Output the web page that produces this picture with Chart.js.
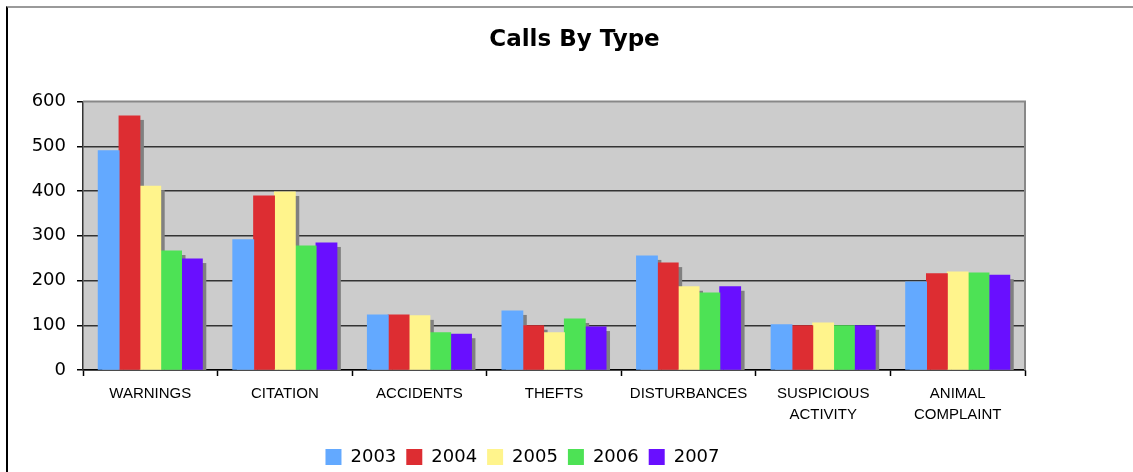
<!DOCTYPE html>
<html>
<head>
<meta charset="utf-8">
<title>Calls By Type</title>
<script src="https://cdn.jsdelivr.net/npm/chart.js@4.4.0/dist/chart.umd.min.js"></script>
<style>
  html, body { margin: 0; padding: 0; background: #fff; }
  #wrap { position: relative; width: 1133px; height: 472px; overflow: hidden; }
  #frame { position: absolute; left: 6px; top: 6px; right: -4px; bottom: -4px; border-top: 2px solid #9a9a9a; border-left: 2px solid #000; }
  #calls { position: absolute; left: 0; top: 0; }
</style>
</head>
<body>
<div id="wrap">
  <div id="frame"></div>
  <canvas id="calls" width="1133" height="472"></canvas>
</div>
<script>
// data
const categories = ['WARNINGS', 'CITATION', 'ACCIDENTS', 'THEFTS', 'DISTURBANCES', ['SUSPICIOUS', 'ACTIVITY'], ['ANIMAL', 'COMPLAINT']];
const years = ['2003', '2004', '2005', '2006', '2007'];
const calls2003 = [490, 291, 123, 132, 255, 101, 197];
const calls2004 = [568, 389, 123, 99, 239, 99, 215];
const calls2005 = [411, 398, 121, 83, 186, 105, 219];
const calls2006 = [266, 277, 83, 114, 172, 99, 217];
const calls2007 = [248, 284, 80, 96, 186, 99, 212];
const yTicks = [0, 100, 200, 300, 400, 500, 600];

const seriesValues = [calls2003, calls2004, calls2005, calls2006, calls2007];
const barColors = ['#63a9ff', '#dd2d32', '#fff48c', '#4de255', '#690fff'];

const sansV = "'DejaVu Sans', Verdana, sans-serif";
const sansA = "'Liberation Sans', Arial, sans-serif";

const PLOT_LEFT = 83;
const PLOT_BOTTOM = 370;
const SHADOW = 4;

// grey plot fill + grey frame on top/right
const plotBox = {
  id: 'plotBox',
  beforeDraw(chart) {
    const { ctx, chartArea: a } = chart;
    ctx.save();
    ctx.fillStyle = '#cccccc';
    ctx.fillRect(a.left, a.top, a.right - a.left, a.bottom - a.top);
    ctx.restore();
  },
  afterDraw(chart) {
    const { ctx, chartArea: a } = chart;
    ctx.save();
    ctx.strokeStyle = '#888888';
    ctx.lineWidth = 2;
    ctx.beginPath();
    ctx.moveTo(a.left, a.top);
    ctx.lineTo(a.right, a.top);
    ctx.lineTo(a.right, a.bottom);
    ctx.stroke();
    ctx.restore();
  }
};

// flat grey drop shadow, taken from the bar elements the library laid out
const barShadow = {
  id: 'barShadow',
  beforeDatasetsDraw(chart) {
    const { ctx, chartArea: a } = chart;
    ctx.save();
    ctx.beginPath();
    ctx.rect(a.left, a.top, a.right - a.left, a.bottom - a.top);
    ctx.clip();
    ctx.fillStyle = '#808080';
    chart.data.datasets.forEach((ds, i) => {
      chart.getDatasetMeta(i).data.forEach(bar => {
        const { x, y, base, width } = bar.getProps(['x', 'y', 'base', 'width'], true);
        ctx.fillRect(x - width / 2 + SHADOW, y + SHADOW, width, base - y);
      });
    });
    ctx.restore();
  }
};

// title centred on the whole frame, legend nudged like the original
const boxNudge = {
  id: 'boxNudge',
  afterLayout(chart) {
    const t = chart.titleBlock;
    if (t) { t.left = 16; t.right = 1133; }
    const l = chart.legend;
    if (l) { l.left += 10; l.right += 10; l.top += 4; l.bottom += 4; }
  }
};

new Chart(document.getElementById('calls'), {
  type: 'bar',
  data: {
    labels: categories,
    datasets: years.map((y, i) => ({
      label: y,
      data: seriesValues[i],
      backgroundColor: barColors[i],
      borderWidth: 0,
      inflateAmount: 0.5
    }))
  },
  options: {
    responsive: false,
    devicePixelRatio: 1,
    animation: false,
    events: [],
    layout: { padding: { left: 0, right: 108, top: 0, bottom: 0 } },
    datasets: { bar: { categoryPercentage: 0.773, barPercentage: 1 } },
    plugins: {
      title: {
        display: true,
        text: 'Calls By Type',
        color: '#000',
        font: { family: sansV, size: 23, weight: 'bold', lineHeight: 1.2 },
        padding: { top: 26, bottom: 48 }
      },
      legend: {
        position: 'bottom',
        labels: {
          color: '#000',
          font: { family: sansV, size: 18 },
          boxWidth: 16,
          boxHeight: 16,
          padding: 10
        }
      },
      tooltip: { enabled: false }
    },
    scales: {
      x: {
        grid: { display: true, drawOnChartArea: false, offset: true, tickLength: 6, tickColor: '#000', tickWidth: 1.5 },
        border: { display: true, color: '#000', width: 1.5 },
        ticks: {
          color: '#000',
          font: { family: sansA, size: 15, lineHeight: 1.37 },
          padding: 8,
          maxRotation: 0,
          autoSkip: false
        },
        afterFit(s) { s.height = 472 - PLOT_BOTTOM - (s.chart.legend ? s.chart.legend.height : 48); }
      },
      y: {
        min: 0,
        max: 600,
        afterBuildTicks(s) { s.ticks = yTicks.map(v => ({ value: v })); },
        grid: {
          color: c => (c.tick && c.tick.value === 600) ? 'rgba(0,0,0,0)' : '#333333',
          lineWidth: 1.5,
          tickLength: 6,
          tickColor: '#000',
          tickWidth: 1.5
        },
        border: { display: true, color: '#333333', width: 1.5 },
        ticks: {
          color: '#000',
          font: { family: sansV, size: 18 },
          padding: 11
        },
        afterFit(s) { s.width = PLOT_LEFT; }
      }
    }
  },
  plugins: [plotBox, barShadow, boxNudge]
});
</script>
</body>
</html>
